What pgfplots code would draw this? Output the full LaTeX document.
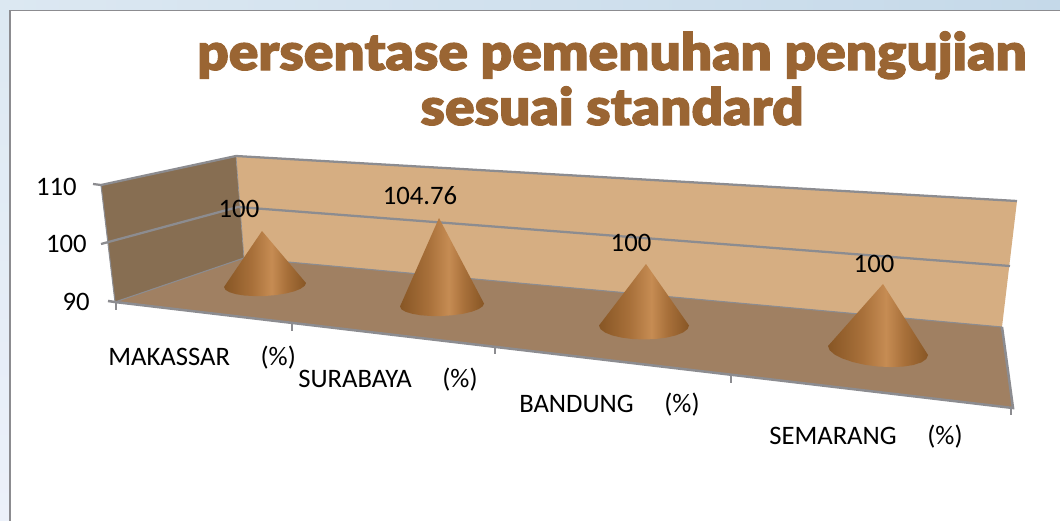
\documentclass[border=0pt]{standalone}
\usepackage{pgfplots}
\pgfplotsset{compat=1.18}
\usepackage{fontspec}
\setmainfont{Carlito}
\newfontfamily\titlefont[FakeBold=2.2,FakeStretch=1.07]{Lato Black}
\definecolor{wallL}{HTML}{876E52}
\definecolor{wallB}{HTML}{D6AE82}
\definecolor{floorc}{HTML}{A08062}
\definecolor{gridc}{HTML}{8C8C90}
\definecolor{titlec}{HTML}{9A6533}
\definecolor{coneD}{HTML}{875625}
\definecolor{coneM}{HTML}{A8703A}
\definecolor{coneL}{HTML}{C68C53}
\pgfdeclarehorizontalshading{conesh}{100bp}{color(0bp)=(coneD);color(25bp)=(coneD);color(42bp)=(coneM);color(54bp)=(coneL);color(63bp)=(coneM);color(75bp)=(coneD);color(100bp)=(coneD)}
\newcommand\pct{(\%)}
\pgfplotsset{labelplot/.style={only marks,mark=none,nodes near coords,
  nodes near coords align={anchor=center},
  /pgf/number format/assume math mode=true,
  every node near coord/.append style={font=\fontsize{20}{22}\selectfont,text=black,inner sep=0pt}}}
\begin{document}
\begin{tikzpicture}
\begin{axis}[scale only axis,width=795pt,height=390.75pt,hide axis,
  xmin=0,xmax=1060,ymin=0,ymax=521,y dir=reverse,clip=true]
% backdrop
\addplot[draw=none,fill=white] coordinates {(0,0)(1060,0)(1060,521)(0,521)} -- cycle;
\addplot[draw=none,shade,left color={rgb,255:red,220;green,232;blue,242},right color={rgb,255:red,197;green,217;blue,233}] coordinates {(0,0)(1060,0)(1060,10)(0,10)} -- cycle;
\addplot[draw=none,shade,top color={rgb,255:red,220;green,232;blue,242},bottom color={rgb,255:red,236;green,241;blue,250}] coordinates {(0,0)(10,0)(10,521)(0,521)} -- cycle;
\addplot[draw=gridc,line width=1.2pt] coordinates {(1060,10.5)(10,10.5)(10,521)};
% walls
\addplot[draw=none,fill=wallL] coordinates {(101,185)(236,156)(244,258)(115,302)} -- cycle;
\addplot[draw=none,fill=wallB] coordinates {(236,156)(1017,201)(1002,327)(244,258)} -- cycle;
\addplot[draw=none,fill=floorc] coordinates {(244,258)(1002,327)(1013,408)(115,302)} -- cycle;
% gridlines and edges
\addplot[draw=gridc,line width=1.7pt] coordinates {(93,184)(101,185)(236,156)(1017,201)};
\addplot[draw=gridc,line width=1.7pt] coordinates {(101,244)(238,207)(1010,266)};
\addplot[draw=gridc,line width=0.8pt] coordinates {(101,185)(115,302)};
\addplot[draw=gridc,line width=0.5pt] coordinates {(236,156)(244,258)};
\addplot[draw=gridc,line width=0.8pt] coordinates {(115,302)(244,258)(1002,327)};
\addplot[draw=gridc,line width=1.9pt] coordinates {(108,301)(115,302)(1013,408)(1002,327)};
\addplot[draw=gridc,line width=0.9pt] coordinates {(116,302)(116,310)};
\addplot[draw=gridc,line width=0.9pt] coordinates {(292,323)(292,331)};
\addplot[draw=gridc,line width=0.9pt] coordinates {(495,347)(495,354)};
\addplot[draw=gridc,line width=0.9pt] coordinates {(731,376)(731,383)};
\addplot[draw=gridc,line width=0.9pt] coordinates {(1011,408)(1011,415)};
% cones
\addplot[draw=none,shade,shading=conesh] coordinates {(262,231)(306,283)(304.6,285.9)(300.5,288.8)(294,291.4)(285.5,293.5)(275.6,295.1)(265,296)(254.4,296.1)(244.5,295.5)(236,294.2)(229.5,292.2)(225.4,289.8)(224,287)} -- cycle;
\addplot[draw=none,shade,shading=conesh] coordinates {(439,218)(484,303.5)(482.6,306.4)(478.4,309.2)(471.7,311.7)(463,313.8)(452.9,315.2)(442,316)(431.1,316)(421,315.3)(412.3,313.8)(405.6,311.8)(401.4,309.3)(400,306.5)} -- cycle;
\addplot[draw=none,shade,shading=conesh] coordinates {(646,264)(689,325.5)(687.5,329.1)(683,332.5)(675.8,335.4)(666.5,337.6)(655.6,339)(644,339.5)(632.4,339)(621.5,337.6)(612.2,335.4)(605,332.5)(600.5,329.1)(599,325.5)} -- cycle;
\addplot[draw=none,shade,shading=conesh] coordinates {(883,284)(928,355)(926.3,359)(921.3,362.4)(913.4,365)(903,366.6)(891,367.1)(878,366.5)(865,364.8)(853,362.1)(842.7,358.6)(834.7,354.6)(829.7,350.3)(828,346)} -- cycle;
% data labels
\addplot[labelplot,point meta=explicit] table[x=x,y=y,meta=v] {
x y v
239 209 100
420 196 104.76
631 243 100
874 264 100
};
% value axis labels
\addplot[labelplot,point meta=explicit,nodes near coords align={anchor=east}] table[x=x,y=y,meta=v] {
x y v
77 187 110
87 244 100
90 302 90
};
% category labels
\addplot[labelplot,point meta=explicit symbolic,nodes near coords align={anchor=west}] table[x=x,y=y,meta=c,col sep=comma] {
x,y,c
108,358,MAKASSAR\hspace{1.15em}\pct
298,380,SURABAYA\hspace{1.15em}\pct
519,405,BANDUNG\hspace{1.15em}\pct
769,437,SEMARANG\hspace{1.15em}\pct
};
% title
\node[anchor=base,text=titlec,inner sep=0pt,font=\titlefont\fontsize{38.5}{40}\selectfont] at (axis cs:612,70) {persentase pemenuhan pengujian};
\node[anchor=base,text=titlec,inner sep=0pt,font=\titlefont\fontsize{38.5}{40}\selectfont] at (axis cs:612,125) {sesuai standard};
\end{axis}
\end{tikzpicture}
\end{document}
